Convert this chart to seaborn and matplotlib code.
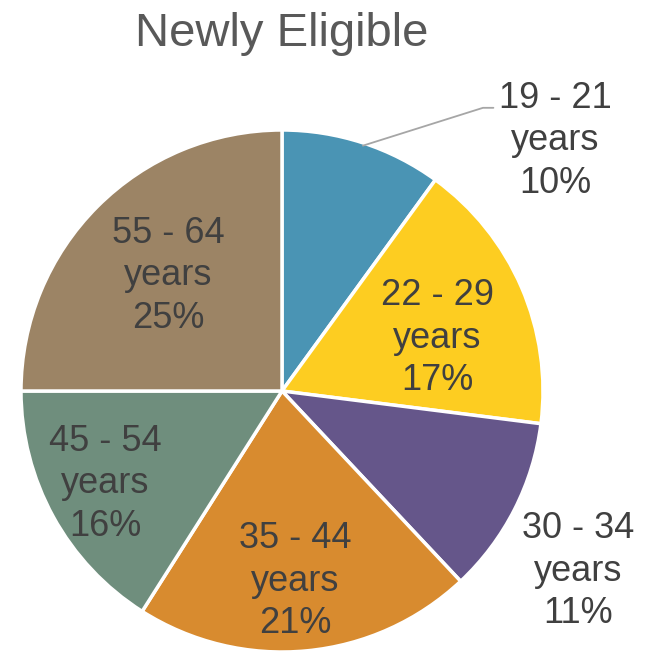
import matplotlib
matplotlib.use("Agg")
import matplotlib.pyplot as plt
import seaborn as sns

# data
groups = ["19 - 21", "22 - 29", "30 - 34", "35 - 44", "45 - 54", "55 - 64"]
shares = [10, 17, 11, 21, 16, 25]
colors = ["#4A94B4", "#FDCD21", "#65568A", "#D88B2F", "#6F8E7D", "#9C8465"]

# label placement (in units of the pie radius)
label_pos = [(1.046, 0.958), (0.594, 0.203), (1.134, -0.690),
             (0.050, -0.728), (-0.678, -0.356), (-0.437, 0.441)]

sns.set_theme(style="white")
plt.rcParams["font.family"] = ["Liberation Sans", "DejaVu Sans"]

fig = plt.figure(figsize=(6.52, 6.53), dpi=100)
R = 261
ax = fig.add_axes([(282 - R) / 652, (653 - 391 - R) / 653, 2 * R / 652, 2 * R / 653])

wedges, _ = ax.pie(shares, colors=colors, startangle=90, counterclock=False,
                   radius=1, wedgeprops=dict(edgecolor="white", linewidth=2.5))
ax.set_xlim(-1, 1)
ax.set_ylim(-1, 1)
ax.set_aspect("equal")
ax.axis("off")

# leader line for the small first slice
ax.plot([0.31, 0.77, 0.81], [0.94, 1.085, 1.085], color="#A6A6A6", lw=1.3, clip_on=False)

for i, (x, y) in enumerate(label_pos):
    txt = f"{groups[i]}\nyears\n{shares[i]}%"
    ax.text(x, y, txt, ha="center", va="center", fontsize=26, color="#404040",
            linespacing=1.27, clip_on=False)

fig.text(282 / 652, 1 - 34 / 653, "Newly Eligible", ha="center", va="center",
         fontsize=34, color="#595959")

fig.savefig("out.png", dpi=100)
